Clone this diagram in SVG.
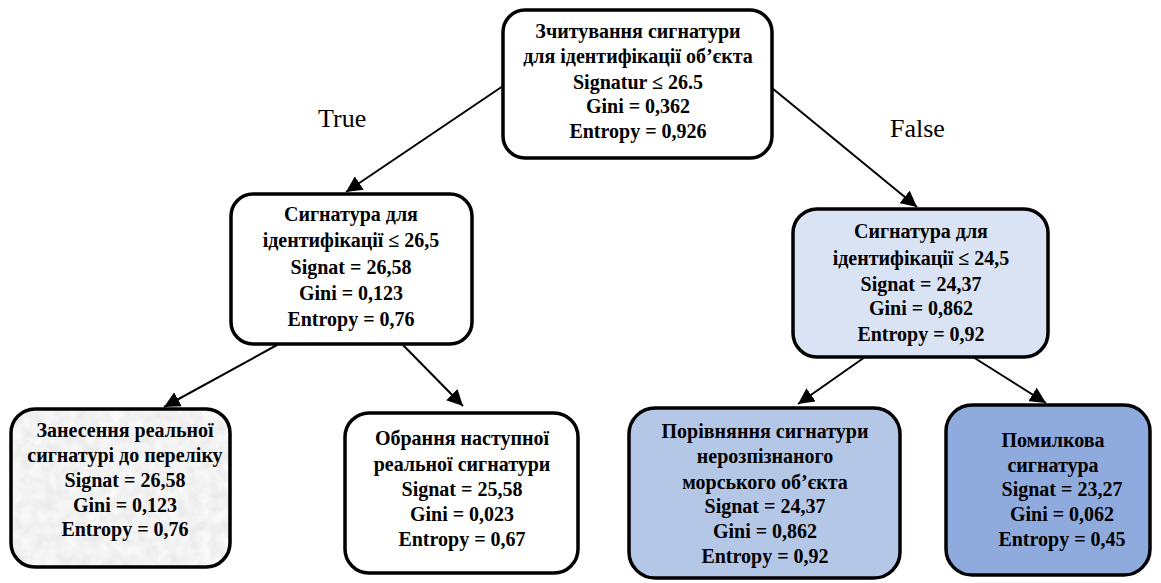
<svg xmlns="http://www.w3.org/2000/svg" width="1161" height="583" viewBox="0 0 1161 583">
<style>
.box{stroke:#000;stroke-width:3.5}
.t{font-family:'Liberation Serif','DejaVu Serif',serif;font-weight:bold;font-size:20px;fill:#000;text-anchor:middle}
.lbl{font-family:'Liberation Serif','DejaVu Serif',serif;font-size:26px;fill:#000}
.c{stroke:#000;stroke-width:2;fill:none;marker-end:url(#ah)}
</style>
<defs>
<marker id="ah" markerUnits="userSpaceOnUse" markerWidth="18" markerHeight="16" refX="16" refY="8" orient="auto">
<path d="M0,0 L16,8 L0,16 Z" fill="#000"/>
</marker>
<filter id="stone" x="0" y="0" width="1" height="1">
<feTurbulence type="fractalNoise" baseFrequency="0.09" numOctaves="3" seed="4" result="n"/>
<feColorMatrix in="n" type="matrix" values="0.22 0 0 0 0.78  0.22 0 0 0 0.78  0.22 0 0 0 0.78  0 0 0 0 1" result="g"/>
<feComposite in="g" in2="SourceAlpha" operator="in"/>
</filter>
</defs>
<g id="connectors">
<line class="c" x1="503" y1="86" x2="346" y2="192"/>
<line class="c" x1="772" y1="88" x2="917" y2="207"/>
<line class="c" x1="277" y1="345" x2="164" y2="407"/>
<line class="c" x1="403" y1="345" x2="463" y2="406"/>
<line class="c" x1="865" y1="357" x2="798" y2="404"/>
<line class="c" x1="973" y1="357" x2="1046" y2="403"/>
</g>
<g id="labels">
<text class="lbl" x="318" y="127">True</text>
<text class="lbl" x="890" y="137">False</text>
</g>
<g id="root">
<rect class="box" x="503" y="10" width="269" height="148" rx="22" fill="#fff"/>
<text class="t" x="638" y="38">Зчитування сигнатури</text>
<text class="t" x="638" y="63">для ідентифікації об’єкта</text>
<text class="t" x="638" y="89">Signatur ≤ 26.5</text>
<text class="t" x="638" y="113">Gini = 0,362</text>
<text class="t" x="638" y="138">Entropy = 0,926</text>
</g>
<g id="left-mid">
<rect class="box" x="231" y="194" width="241" height="150" rx="22" fill="#fff"/>
<text class="t" x="351" y="221">Сигнатура для</text>
<text class="t" x="351" y="247">ідентифікації ≤ 26,5</text>
<text class="t" x="351" y="274">Signat = 26,58</text>
<text class="t" x="351" y="300">Gini = 0,123</text>
<text class="t" x="351" y="326">Entropy = 0,76</text>
</g>
<g id="right-mid">
<rect class="box" x="793" y="209" width="255" height="148" rx="24" fill="#dae3f3"/>
<text class="t" x="921" y="238">Сигнатура для</text>
<text class="t" x="921" y="265">ідентифікації ≤ 24,5</text>
<text class="t" x="921" y="291">Signat = 24,37</text>
<text class="t" x="921" y="315">Gini = 0,862</text>
<text class="t" x="921" y="341">Entropy = 0,92</text>
</g>
<g id="leaf1">
<rect x="11" y="409" width="219" height="158" rx="24" fill="#e8e8e8" filter="url(#stone)"/>
<rect class="box" x="11" y="409" width="219" height="158" rx="24" fill="none"/>
<text class="t" x="125" y="437">Занесення реальної</text>
<text class="t" x="125" y="462">сигнатурі до переліку</text>
<text class="t" x="125" y="487">Signat = 26,58</text>
<text class="t" x="125" y="512">Gini = 0,123</text>
<text class="t" x="125" y="536">Entropy = 0,76</text>
</g>
<g id="leaf2">
<rect class="box" x="345" y="413" width="233" height="160" rx="24" fill="#fff"/>
<text class="t" x="462" y="445">Обрання наступної</text>
<text class="t" x="462" y="471">реальної сигнатури</text>
<text class="t" x="462" y="496">Signat = 25,58</text>
<text class="t" x="462" y="521">Gini = 0,023</text>
<text class="t" x="462" y="546">Entropy = 0,67</text>
</g>
<g id="leaf3">
<rect class="box" x="629" y="408" width="271" height="170" rx="26" fill="#b4c7e7"/>
<text class="t" x="765" y="438">Порівняння сигнатури</text>
<text class="t" x="765" y="463">нерозпізнаного</text>
<text class="t" x="765" y="489">морського об’єкта</text>
<text class="t" x="765" y="513">Signat = 24,37</text>
<text class="t" x="765" y="538">Gini = 0,862</text>
<text class="t" x="765" y="563">Entropy = 0,92</text>
</g>
<g id="leaf4">
<rect class="box" x="946" y="405" width="204" height="170" rx="26" fill="#8faadc"/>
<text class="t" x="1053" y="447">Помилкова</text>
<text class="t" x="1053" y="472">сигнатура</text>
<text class="t" x="1062" y="496">Signat = 23,27</text>
<text class="t" x="1062" y="521">Gini = 0,062</text>
<text class="t" x="1062" y="546">Entropy = 0,45</text>
</g>
</svg>
